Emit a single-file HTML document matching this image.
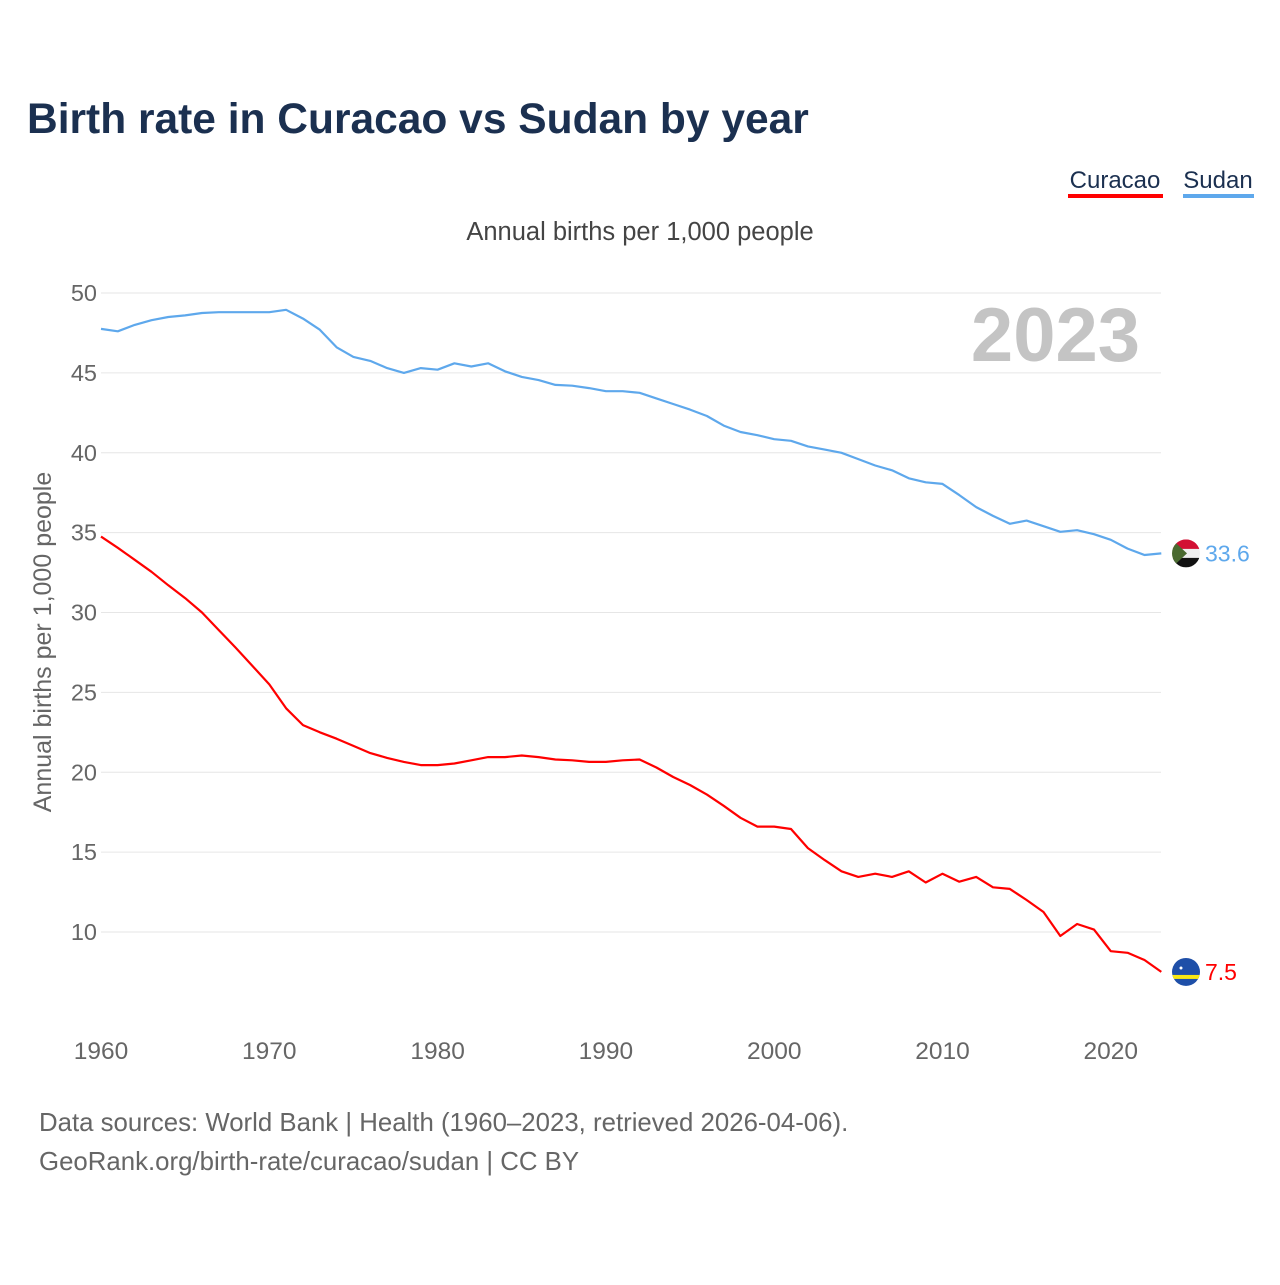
<!DOCTYPE html>
<html><head><meta charset="utf-8">
<style>
body{margin:0;background:#fff;font-family:"Liberation Sans",sans-serif;}
svg text{font-family:"Liberation Sans",sans-serif;}
</style></head>
<body>
<svg id="chart" width="1280" height="1280" viewBox="0 0 1280 1280" xmlns="http://www.w3.org/2000/svg">
<text x="27" y="133" font-size="42.5" font-weight="bold" fill="#1b3050">Birth rate in Curacao vs Sudan by year</text>
<g>
<text x="1115" y="188" font-size="24" fill="#1b3050" text-anchor="middle">Curacao</text>
<rect x="1068" y="194" width="95" height="4" fill="#ff0000"/></g>
<g>
<text x="1218" y="188" font-size="24" fill="#1b3050" text-anchor="middle">Sudan</text>
<rect x="1183" y="194" width="71" height="4" fill="#5ea8ec"/></g>
<text x="640" y="240" font-size="25.5" fill="#444" text-anchor="middle">Annual births per 1,000 people</text>
<text x="1140" y="361" font-size="76" font-weight="bold" fill="#c4c4c4" text-anchor="end">2023</text>
<text transform="translate(51,642) rotate(-90)" font-size="25" fill="#666" text-anchor="middle">Annual births per 1,000 people</text>
<defs><clipPath id="c1"><circle id="c1c" cx="1186" cy="0" r="14"/></clipPath><clipPath id="c2"><circle id="c2c" cx="1186" cy="0" r="14"/></clipPath></defs>
<g id="grid"></g><g id="series"></g>
<text x="39" y="1131" font-size="25.8" fill="#666">Data sources: World Bank | Health (1960–2023, retrieved 2026-04-06).</text>
<text x="39" y="1170" font-size="25.8" fill="#666">GeoRank.org/birth-rate/curacao/sudan | CC BY</text>
</svg>
<script>
const years=[];for(let y=1960;y<=2023;y++)years.push(y);
const sudan=[47.75,47.6,48.0,48.3,48.5,48.6,48.75,48.8,48.8,48.8,48.8,48.95,48.4,47.7,46.6,46.0,45.75,45.3,45.0,45.3,45.2,45.6,45.4,45.6,45.1,44.75,44.55,44.25,44.2,44.05,43.85,43.85,43.75,43.4,43.05,42.7,42.3,41.7,41.3,41.1,40.85,40.75,40.4,40.2,40.0,39.6,39.2,38.9,38.4,38.15,38.05,37.35,36.6,36.05,35.55,35.75,35.4,35.05,35.15,34.9,34.55,34.0,33.6,33.7];
const curacao=[34.75,34.05,33.3,32.55,31.7,30.9,30.0,28.9,27.8,26.65,25.5,24.0,22.95,22.5,22.1,21.65,21.2,20.9,20.65,20.45,20.45,20.55,20.75,20.95,20.95,21.05,20.95,20.8,20.75,20.65,20.65,20.75,20.8,20.3,19.7,19.2,18.6,17.9,17.15,16.6,16.6,16.45,15.25,14.5,13.8,13.45,13.65,13.45,13.8,13.1,13.65,13.15,13.45,12.8,12.7,12.0,11.25,9.75,10.5,10.15,8.8,8.7,8.25,7.5];
const yTicks=[10,15,20,25,30,35,40,45,50];
const xTicks=[1960,1970,1980,1990,2000,2010,2020];
const NS="http://www.w3.org/2000/svg";
const X=v=>101+(v-1960)*16.83;
const Y=v=>293+(50-v)*15.975;
function mk(t,a,p){const e=document.createElementNS(NS,t);for(const k in a)e.setAttribute(k,a[k]);p.appendChild(e);return e;}
const grid=document.getElementById('grid'),ser=document.getElementById('series');
yTicks.forEach(v=>{
 const l=mk('line',{x1:101,x2:1161,y1:Y(v),y2:Y(v),stroke:'#e6e6e6','stroke-width':1},grid);
 
 
 const t=mk('text',{x:97,y:Y(v)+8,'font-size':23.5,fill:'#666','text-anchor':'end'},grid);t.textContent=v;
 
 
});
xTicks.forEach(v=>{
 const t=mk('text',{x:X(v),y:1059,'font-size':24.5,fill:'#666','text-anchor':'middle'},grid);t.textContent=v;
 
 
});
function line(vals,color,name){
 const d=vals.map((v,i)=>(i?'L':'M')+X(years[i]).toFixed(1)+','+Y(v).toFixed(1)).join('');
 const p=mk('path',{d:d,fill:'none',stroke:color,'stroke-width':2.2,'stroke-linejoin':'round'},ser);
 
 
 const last=vals[vals.length-1],ly=Y(last);
 const t=mk('text',{x:1205,y:ly+8,'font-size':23,fill:color},ser);t.textContent=(name==='sudan-line'?33.6:last).toFixed(1);
 
 
 return ly;
}
const sy=line(sudan,'#5ea8ec','sudan-line');
document.getElementById('c1c').setAttribute('cy',sy);
const sf=mk('g',{'clip-path':'url(#c1)'},ser);


mk('rect',{x:1172,y:sy-14,width:28,height:28,fill:'#eee'},sf);
mk('rect',{x:1172,y:sy-14,width:28,height:9.5,fill:'#d21034'},sf);
mk('rect',{x:1172,y:sy+4.5,width:28,height:9.5,fill:'#111'},sf);
mk('polygon',{points:`1172,${sy-14} 1187,${sy} 1172,${sy+14}`,fill:'#4a6a30'},sf);
const cy=line(curacao,'#ff0000','curacao-line');
document.getElementById('c2c').setAttribute('cy',cy);
const cf=mk('g',{'clip-path':'url(#c2)'},ser);


mk('rect',{x:1172,y:cy-14,width:28,height:28,fill:'#1e4fa8'},cf);
mk('rect',{x:1172,y:cy+3,width:28,height:4,fill:'#f9e814'},cf);
mk('circle',{cx:1181,cy:cy-4,r:1.5,fill:'#fff'},cf);
</script>
</body></html>
